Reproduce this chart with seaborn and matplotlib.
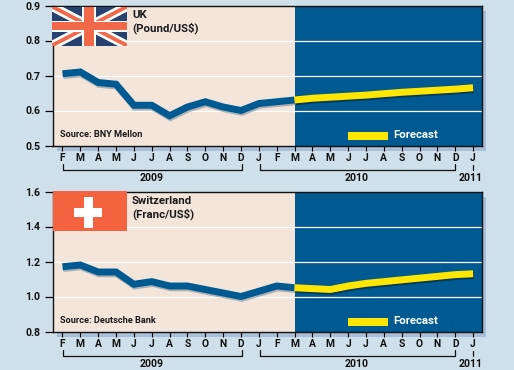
import matplotlib
matplotlib.use("Agg")
import matplotlib.pyplot as plt
import matplotlib.patheffects as pe
from matplotlib.patches import Rectangle
import seaborn as sns
import pandas as pd

W, H = 514, 370
BG = "#cfe0ea"; PANEL = "#f3e5da"; BLUE = "#005a92"; YEL = "#ffe600"; SHADOW = "#a9bfd8"
FONT = ["Roboto", "Liberation Sans", "DejaVu Sans"]

months = ["F","M","A","M","J","J","A","S","O","N","D","J","F","M","A","M","J","J","A","S","O","N","D","J"]
uk_hist = [0.705,0.71,0.68,0.675,0.615,0.615,0.585,0.61,0.625,0.61,0.60,0.62,0.625,0.63]
uk_fc = [0.63,0.635,0.638,0.641,0.644,0.648,0.652,0.655,0.658,0.661,0.665]
ch_hist = [1.17,1.18,1.14,1.14,1.07,1.085,1.06,1.06,1.04,1.02,1.0,1.03,1.06,1.05]
ch_fc = [1.05,1.045,1.04,1.06,1.075,1.085,1.095,1.105,1.115,1.125,1.13]
uk_ticks = [0.5,0.6,0.7,0.8,0.9]
ch_ticks = [0.8,1.0,1.2,1.4,1.6]

sns.set_theme(style="white")
plt.rcParams["font.family"] = FONT
fig = plt.figure(figsize=(W/100, H/100), dpi=100, facecolor=BG)

def box(x0, y0, x1, y1):
    return [x0/W, 1-y1/H, (x1-x0)/W, (y1-y0)/H]

def draw_panel(top, bottom, hist, fc, ticks, fmt, title, sub, source, flag):
    sb = box(57, top+5, 486, bottom+5.5)
    fig.add_artist(Rectangle((sb[0], sb[1]), sb[2], sb[3], transform=fig.transFigure, fc=SHADOW, ec="none", zorder=0))
    ax = fig.add_axes(box(52.5, top, 481.5, bottom), zorder=2)
    ax.set_facecolor(PANEL)
    ax.set_xlim(-0.56, 23.47)
    ax.set_ylim(ticks[0], ticks[-1])
    ax.axvspan(13, 23.47, color=BLUE, lw=0, zorder=1)
    for t in ticks[1:-1]:
        ax.axhline(t, color="white", lw=0.9, zorder=2)
    df_h = pd.DataFrame({"i": range(len(hist)), "v": hist})
    df_f = pd.DataFrame({"i": range(13, 13+len(fc)), "v": fc})
    sns.lineplot(data=df_h, x="i", y="v", ax=ax, color=BLUE, lw=5.0, zorder=3, errorbar=None,
                 solid_joinstyle="miter", solid_capstyle="butt",
                 path_effects=[pe.SimpleLineShadow(offset=(0.6,-1.3), shadow_color="#8f9aa3", alpha=0.7), pe.Normal()])
    sns.lineplot(data=df_f, x="i", y="v", ax=ax, color=YEL, lw=5.0, zorder=4, errorbar=None,
                 solid_joinstyle="miter", solid_capstyle="butt",
                 path_effects=[pe.SimpleLineShadow(offset=(0.6,-1.3), shadow_color="#06304f", alpha=0.8), pe.Normal()])
    ax.set_xlabel(""); ax.set_ylabel("")
    ax.set_xticks(range(len(months)))
    ax.set_xticklabels(months)
    ax.set_yticks(ticks)
    ax.set_yticklabels([fmt % t for t in ticks])
    ax.tick_params(axis="x", bottom=True, length=3.5, width=0.8, color="black", pad=2, labelsize=7.4, labelcolor="#111")
    ax.tick_params(axis="y", left=True, length=6, width=0.9, color="black", pad=3, labelsize=7.6, labelcolor="#111")
    for l in ax.get_xticklabels() + ax.get_yticklabels():
        l.set_fontweight("bold")
    for s in ax.spines.values():
        s.set_visible(True); s.set_color("#111"); s.set_linewidth(1.0)
    px = lambda x, y: (x/W, 1-y/H)
    def ftext(x, y, s, **kw):
        fig.text(x/W, 1-y/H, s, zorder=6, fontweight="bold", parse_math=False, **kw)
    ftext(132, top+9.5, title, fontsize=8.2, color="#1a1a1a", va="center", ha="left")
    ftext(132, top+22.5, sub, fontsize=8.2, color="#1a1a1a", va="center", ha="left")
    ftext(60, bottom-11, source, fontsize=6.6, color="#1a1a1a", va="center", ha="left")
    ftext(393, bottom-10.5, "Forecast", fontsize=8.2, color="white", va="center", ha="left")
    x0, y0 = px(347.5, bottom-6); x1, y1 = px(387.5, bottom-14)
    fig.add_artist(Rectangle((x0, y0), x1-x0, y1-y0, transform=fig.transFigure, fc=YEL, ec="none", zorder=6))
    by, by2 = bottom+24.5, bottom+18
    for xa, xb in [(62.5, 242), (259.5, 455)]:
        xs = [xa/W, xa/W, xb/W, xb/W]
        ys = [1-by2/H, 1-by/H, 1-by/H, 1-by2/H]
        fig.add_artist(plt.Line2D(xs, ys, transform=fig.transFigure, color="#111", lw=0.9, zorder=5))
    fig.add_artist(plt.Line2D([472.5/W]*2, [1-(by2+1)/H, 1-by/H], transform=fig.transFigure, color="#111", lw=0.9, zorder=5))
    ftext(152, bottom+32.5, "2009", fontsize=7.6, color="#111", ha="center", va="center")
    ftext(357, bottom+32.5, "2010", fontsize=7.6, color="#111", ha="center", va="center")
    ftext(470.5, bottom+32.5, "2011", fontsize=7.6, color="#111", ha="center", va="center")
    flag(top)

def uk_flag(top):
    a = fig.add_axes(box(52, top+1, 127, top+40), zorder=5)
    a.set_xlim(0, 75); a.set_ylim(39, 0); a.axis("off")
    a.add_patch(Rectangle((0,0),75,39,fc="#26406f",ec="none"))
    for (p, q) in [((0,0),(75,39)),((0,39),(75,0))]:
        a.plot([p[0],q[0]],[p[1],q[1]],color="white",lw=6.6,solid_capstyle="butt")
        a.plot([p[0],q[0]],[p[1],q[1]],color="#f2694a",lw=2.8,solid_capstyle="butt")
    a.add_patch(Rectangle((30,0),14,39,fc="white",ec="none",zorder=3))
    a.add_patch(Rectangle((0,14),75,11,fc="white",ec="none",zorder=3))
    a.add_patch(Rectangle((32,0),10,39,fc="#f2694a",ec="none",zorder=4))
    a.add_patch(Rectangle((0,15.5),75,8,fc="#f2694a",ec="none",zorder=4))

def ch_flag(top):
    a = fig.add_axes(box(53, top, 127, top+39), zorder=5)
    a.set_xlim(0, 74); a.set_ylim(39, 0); a.axis("off")
    a.add_patch(Rectangle((0,0),74,39,fc="#f4623f",ec="none"))
    a.add_patch(Rectangle((21,17),28,8.5,fc="white",ec="none"))
    a.add_patch(Rectangle((30.5,6),9,30,fc="white",ec="none"))

draw_panel(5.5, 145.5, uk_hist, uk_fc, uk_ticks, "%.1f", "UK", "(Pound/US$)", "Source: BNY Mellon", uk_flag)
draw_panel(191.5, 331.5, ch_hist, ch_fc, ch_ticks, "%.1f", "Switzerland", "(Franc/US$)", "Source: Deutsche Bank", ch_flag)
fig.savefig("out.png", dpi=100, facecolor=BG)
